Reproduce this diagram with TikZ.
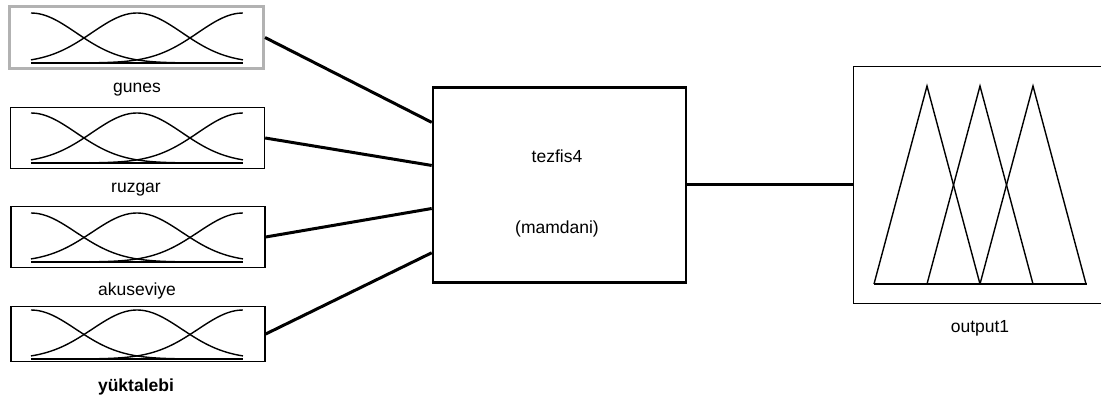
\documentclass[tikz,border=0pt]{standalone}
\usepackage{fontspec}
\setmainfont{Liberation Sans}
\usetikzlibrary{positioning,calc}

\begin{document}
\begin{tikzpicture}[x=1pt,y=-1pt,
			inbox/.style = {draw, line width=1.4pt, minimum width=254pt, inner sep=0pt},
			fisbox/.style = {draw, line width=2.6pt, minimum width=253pt, minimum height=195pt},
			outbox/.style = {draw, line width=1.6pt, minimum width=255pt, minimum height=237pt},
			lbl/.style = {anchor=base, inner sep=0pt, font=\fontsize{17.5}{20}\selectfont},
			wire/.style = {line width=3pt},
			mf/.style = {line width=1.4pt}
			]
			\useasboundingbox (0,0) rectangle (1101,398);
			% input variables
			\node [inbox, draw=gray!60, line width=3pt, minimum width=254pt, minimum height=62pt] (gunes) at (136.5,37.5) {};
			\node [inbox, minimum height=61pt] (ruzgar) at (137.5,138) {};
			\node [inbox, minimum height=61pt] (akuseviye) at (138,237) {};
			\node [inbox, minimum height=55pt] (yuktalebi) at (138,334) {};
			\node [lbl] (gunes-lbl) at (137,93) {gunes};
			\node [lbl] (ruzgar-lbl) at (136,193) {ruzgar};
			\node [lbl] (akuseviye-lbl) at (137,295) {akuseviye};
			\node [lbl, font=\fontsize{17.5}{20}\selectfont\bfseries] (yuktalebi-lbl) at (136,391) {yüktalebi};
			% gaussian membership functions
			\foreach \u/\h in {63/50, 163/50, 262/49, 359/49} {
				\begin{scope}[shift={(31,\u)}, x=212pt, y=\h pt]
					\draw[mf] (0,0) -- (1,0);
					\draw[mf] plot[domain=0:1, samples=41, smooth] (\x,{exp(-11.09*\x*\x)});
					\draw[mf] plot[domain=0:1, samples=41, smooth] (\x,{exp(-11.09*(\x-0.5)*(\x-0.5))});
					\draw[mf] plot[domain=0:1, samples=41, smooth] (\x,{exp(-11.09*(\x-1)*(\x-1))});
				\end{scope}
			}
			% inference system
			\node [fisbox] (fis) at (559.5,185) {};
			\node [lbl] (fis-name) at (557,163) {tezfis4};
			\node [lbl] (fis-type) at (557,234) {(mamdani)};
			% output variable
			\node [outbox] (output) at (981,185) {};
			\node [lbl] (output-lbl) at (980,332) {output1};
			\draw[mf] (874,284) -- (1087,284);
			\foreach \a in {927,980,1033}
				\draw[mf] (\a-53,284) -- (\a,86) -- (\a+53,284);
			% connections
			\foreach \b/\f in {gunes/0.183, ruzgar/0.401, akuseviye/0.619, yuktalebi/0.843}
				\draw[wire] (\b.east) -- ($(fis.north west)!\f!(fis.south west)$);
			\draw[wire] (fis.east) -- (output.west);
		\end{tikzpicture}
\end{document}
